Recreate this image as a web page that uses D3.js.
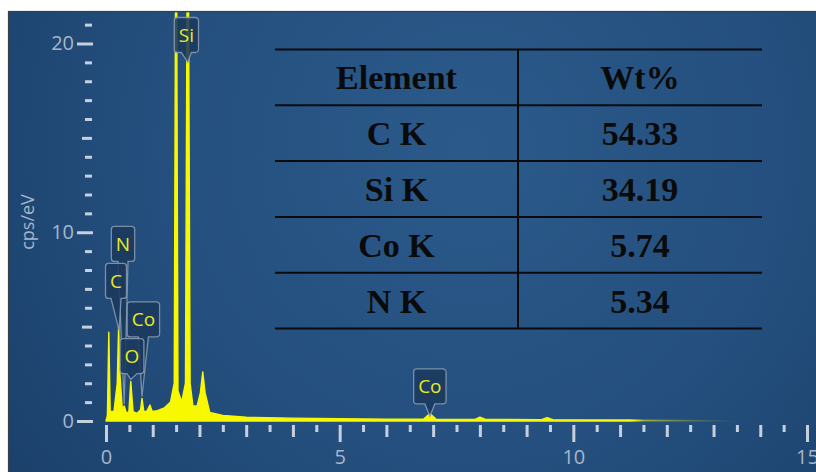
<!DOCTYPE html>
<html>
<head>
<meta charset="utf-8">
<script src="https://cdn.jsdelivr.net/npm/d3@7"></script>
<style>
  body { margin: 0; background: #fff; }
  svg { display: block; }
</style>
</head>
<body>
<svg id="chart" width="816" height="472"></svg>
<script>
// spectrum (keV, cps/eV)
var energy = [0.00, 0.03, 0.06, 0.09, 0.17, 0.24, 0.27, 0.30, 0.35, 0.39, 0.44, 0.49, 0.53, 0.58, 0.66, 0.74, 0.77, 0.81, 0.87, 0.94, 0.99,
  1.10, 1.25, 1.38, 1.46, 1.50, 1.54, 1.62, 1.70, 1.75, 1.80, 1.86, 1.95, 2.02, 2.07, 2.12, 2.22, 2.5, 3.0, 4.0, 5.0, 6.0, 6.80,
  6.93, 7.06, 7.90, 8.00, 8.12, 9.32, 9.44, 9.56, 11.4, 13.5];
var counts = [0.0, 0.3, 4.7, 0.5, 0.5, 2.0, 5.0, 2.4, 0.6, 0.8, 0.4, 0.5, 2.1, 0.5, 0.4, 0.6, 1.2, 0.5, 0.5, 0.85, 0.5,
  0.55, 0.7, 1.0, 2.0, 32, 1.6, 1.0, 2.0, 32, 2.0, 0.8, 0.8, 1.5, 2.6, 1.5, 0.45, 0.3, 0.2, 0.15, 0.12, 0.1, 0.1,
  0.4, 0.1, 0.08, 0.2, 0.08, 0.07, 0.18, 0.07, 0.05, 0.0];

// peak callouts
var calloutText = ["Si", "N", "C", "Co", "O", "Co"];
var calloutPeakE = [1.75, 0.39, 0.28, 0.77, 0.53, 6.93];
var calloutPeakV = [19.0, 0.9, 4.8, 1.3, 2.2, 0.25];
var calloutBoxE = [1.72, 0.364, 0.214, 0.80, 0.556, 6.93];
var calloutBoxV = [20.45, 9.38, 7.42, 5.38, 3.44, 1.83];

// table
var tableHeader = ["Element", "Wt%"];
var tableElements = ["C K", "Si K", "Co K", "N K"];
var tableWt = ["54.33", "34.19", "5.74", "5.34"];

var xTickLabels = [0, 5, 10, 15];
var yTickLabels = [0, 10, 20];

var svg = d3.select("#chart"),
  W = 816, H = 472,
  frame = {left: 8.5, top: 11.5},
  x = d3.scaleLinear().domain([0, 15]).range([106, 807]),
  y = d3.scaleLinear().domain([0, 20]).range([421, 43.5]);

var defs = svg.append("defs");
var bg = defs.append("radialGradient")
  .attr("id", "bg")
  .attr("gradientUnits", "userSpaceOnUse")
  .attr("cx", 470).attr("cy", 150).attr("r", 560);
bg.append("stop").attr("offset", 0).attr("stop-color", "#2b5a8a");
bg.append("stop").attr("offset", 0.55).attr("stop-color", "#244f7e");
bg.append("stop").attr("offset", 1).attr("stop-color", "#1b416b");

var fade = defs.append("linearGradient")
  .attr("id", "fade")
  .attr("gradientUnits", "userSpaceOnUse")
  .attr("x1", x(0)).attr("x2", x(15)).attr("y1", 0).attr("y2", 0);
fade.append("stop").attr("offset", 11.2 / 15).attr("stop-color", "#f8f800").attr("stop-opacity", 1);
fade.append("stop").attr("offset", 11.5 / 15).attr("stop-color", "#f8f800").attr("stop-opacity", 0.35);
fade.append("stop").attr("offset", 13.5 / 15).attr("stop-color", "#f8f800").attr("stop-opacity", 0);

defs.append("clipPath").attr("id", "plotclip")
  .append("rect").attr("x", frame.left).attr("y", frame.top + 1)
  .attr("width", W - frame.left).attr("height", H - frame.top);

svg.append("rect")
  .attr("x", frame.left).attr("y", frame.top)
  .attr("width", W - frame.left + 2).attr("height", H - frame.top + 2)
  .attr("fill", "url(#bg)")
  .attr("stroke", "#3a3f47").attr("stroke-width", 1.2);

// y axis
var yAxis = d3.axisLeft(y)
  .tickValues(d3.range(0, 22))
  .tickSize(7)
  .tickPadding(0)
  .tickFormat(function (d) { return yTickLabels.indexOf(d) >= 0 ? d : ""; });

var gy = svg.append("g").attr("transform", "translate(93,0)").call(yAxis);
gy.select(".domain").remove();
gy.selectAll(".tick line")
  .attr("stroke", "#c6d0dc").attr("stroke-width", 3)
  .attr("x1", function (d) { return d % 10 === 0 ? 0 : -1; })
  .attr("x2", function (d) { return d % 10 === 0 ? -16 : d % 5 === 0 ? -11 : -8; });
gy.selectAll(".tick text")
  .attr("x", -19)
  .attr("fill", "#a6b6c9")
  .style("font-family", "'Open Sans', 'Noto Sans', sans-serif")
  .style("font-size", "20px");

svg.append("text")
  .attr("transform", "translate(34,222) rotate(-90)")
  .attr("text-anchor", "middle")
  .attr("fill", "#a6b6c9")
  .style("font-family", "'Open Sans', 'Noto Sans', sans-serif")
  .style("font-size", "18px")
  .text("cps/eV");

// x axis
var xAxis = d3.axisBottom(x)
  .tickValues(d3.range(0, 15.01, 0.5))
  .tickSize(7)
  .tickFormat(function (d) { return xTickLabels.indexOf(d) >= 0 ? d : ""; });

var gx = svg.append("g").attr("transform", "translate(0,425)").call(xAxis);
gx.select(".domain").remove();
gx.selectAll(".tick line")
  .attr("stroke", "#c6d0dc").attr("stroke-width", 3)
  .attr("y2", function (d) { return d % 5 === 0 ? 17 : d % 1 === 0 ? 12 : 7; });
gx.selectAll(".tick text")
  .attr("y", 25)
  .attr("fill", "#a6b6c9")
  .style("font-family", "'Open Sans', 'Noto Sans', sans-serif")
  .style("font-size", "20px");

// spectrum
var spectrum = energy.map(function (e, i) { return {e: e, v: counts[i]}; });
var area = d3.area()
  .x(function (d) { return x(d.e); })
  .y0(y(0))
  .y1(function (d) { return y(d.v); });

svg.append("path")
  .datum(spectrum)
  .attr("clip-path", "url(#plotclip)")
  .attr("d", area)
  .attr("fill", "url(#fade)")
  .attr("stroke", "url(#fade)")
  .attr("stroke-width", 1.4)
  .attr("stroke-linejoin", "round");

// callouts
function calloutPath(l, t, w, h, tx, ty, hw) {
  var r = 3, R = l + w, B = t + h, bx = l + w / 2,
    p = d3.path();
  p.moveTo(l + r, t);
  p.lineTo(R - r, t);
  p.arcTo(R, t, R, t + r, r);
  p.lineTo(R, B - r);
  p.arcTo(R, B, R - r, B, r);
  p.lineTo(bx + hw, B);
  p.lineTo(tx, ty);
  p.lineTo(bx - hw, B);
  p.lineTo(l + r, B);
  p.arcTo(l, B, l, B - r, r);
  p.lineTo(l, t + r);
  p.arcTo(l, t, l + r, t, r);
  p.closePath();
  return p.toString();
}

var callG = svg.append("g");
calloutText.forEach(function (label, i) {
  var g = callG.append("g");
  var txt = g.append("text")
    .attr("text-anchor", "middle")
    .attr("fill", "#e9e91c")
    .style("font-family", "'Open Sans', 'Noto Sans', sans-serif")
    .style("font-size", "19px")
    .text(label);
  var tw = txt.node().getComputedTextLength(),
    bw = tw + 9, bh = 35,
    cx = x(calloutBoxE[i]), cy = y(calloutBoxV[i]);
  g.insert("path", "text")
    .attr("d", calloutPath(cx - bw / 2, cy - bh / 2, bw, bh,
      x(calloutPeakE[i]), y(calloutPeakV[i]), Math.min(5, bw / 2 - 4)))
    .attr("fill", "#1b395d")
    .attr("fill-opacity", 0.88)
    .attr("stroke", "#8a9db3")
    .attr("stroke-opacity", 0.85)
    .attr("stroke-width", 1.3);
  txt.attr("x", cx).attr("y", cy + 7);
});

// table of weight percentages
var tbl = {left: 275, right: 762, mid: 518, top: 49.5, rowH: 55.8};
var tg = svg.append("g");
var nRows = tableElements.length + 1;
d3.range(nRows + 1).forEach(function (i) {
  tg.append("line")
    .attr("x1", tbl.left).attr("x2", tbl.right)
    .attr("y1", tbl.top + i * tbl.rowH).attr("y2", tbl.top + i * tbl.rowH)
    .attr("stroke", "#0b0b0b").attr("stroke-width", 2);
});
tg.append("line")
  .attr("x1", tbl.mid).attr("x2", tbl.mid)
  .attr("y1", tbl.top).attr("y2", tbl.top + nRows * tbl.rowH)
  .attr("stroke", "#0b0b0b").attr("stroke-width", 2);

var rows = [tableHeader].concat(tableElements.map(function (e, i) { return [e, tableWt[i]]; }));
rows.forEach(function (row, i) {
  var cyRow = tbl.top + i * tbl.rowH + tbl.rowH / 2 + 12;
  [ (tbl.left + tbl.mid) / 2, (tbl.mid + tbl.right) / 2 ].forEach(function (cxCol, j) {
    tg.append("text")
      .attr("x", cxCol).attr("y", cyRow)
      .attr("text-anchor", "middle")
      .attr("fill", "#0a0a0a")
      .style("font-family", "'Liberation Serif', 'Times New Roman', serif")
      .style("font-weight", "bold")
      .style("font-size", "34px")
      .text(row[j]);
  });
});
</script>
</body>
</html>
